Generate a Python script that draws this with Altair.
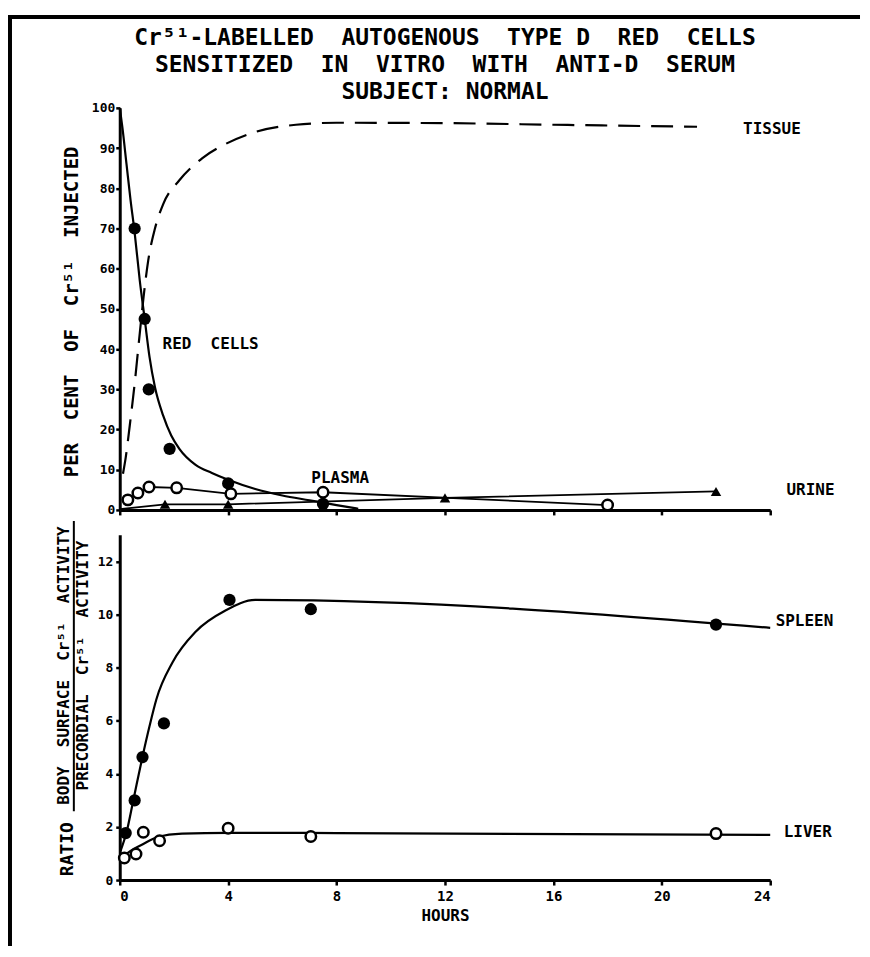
import altair as alt
import pandas as pd

FONT = "DejaVu Sans Mono"
SP = "\u00a0 "  # widened word gap (plain double spaces collapse in SVG)

# ---------------- text ----------------
title_lines = [
    f"Cr⁵¹-LABELLED{SP}AUTOGENOUS{SP}TYPE D{SP}RED{SP}CELLS",
    f"SENSITIZED{SP}IN{SP}VITRO{SP}WITH{SP}ANTI-D{SP}SERUM",
    "SUBJECT: NORMAL",
]
top_y_title = f"PER{SP}CENT{SP}OF{SP}Cr⁵¹{SP}INJECTED"
x_title = "HOURS"
ratio_word = "RATIO"
ratio_num = f"BODY{SP}SURFACE{SP}Cr⁵¹{SP}ACTIVITY"
ratio_den = f"PRECORDIAL{SP}Cr⁵¹{SP}ACTIVITY"

hours_ticks = [0, 4, 8, 12, 16, 20, 24]
pct_ticks = [0, 10, 20, 30, 40, 50, 60, 70, 80, 90, 100]
ratio_ticks = [0, 2, 4, 6, 8, 10, 12]

# ---------------- top panel data (per cent of Cr51 injected) ----------------
rc_t = [0.55, 0.92, 1.07, 1.84, 4.0, 7.5]
rc_v = [70, 47.5, 30, 15.2, 6.6, 1.5]
rc_curve_t = [0, 0.1, 0.25, 0.4, 0.55, 0.74, 0.92, 1.1, 1.3, 1.6, 1.9, 2.2,
              2.8, 3.4, 4.0, 5.0, 6.0, 7.0, 8.0, 8.8]
rc_curve_v = [100, 95, 86, 77, 69, 57, 47.5, 38, 30.5, 23.5, 18.5, 15.2,
              11.2, 9.2, 7.5, 5.2, 3.6, 2.4, 1.2, 0.3]

tissue_t = [0.12, 0.22, 0.37, 0.55, 0.74, 0.88, 1.05, 1.3, 1.6, 2.2, 3.05,
            3.9, 5.0, 6.5, 8.0, 12.0, 16.0, 21.3]
tissue_v = [9, 13, 21, 31.4, 44, 53, 62, 70, 76, 82, 87.5,
            91, 94, 95.8, 96.3, 96.2, 95.8, 95.3]

plasma_t = [0.3, 0.67, 1.08, 2.1, 4.1, 7.5, 18.0]
plasma_v = [2.5, 4.2, 5.7, 5.5, 4.0, 4.4, 1.2]

urine_t = [1.67, 4.0, 12.0, 22.0]
urine_v = [1.4, 1.4, 3.0, 4.6]
urine_line_t = [0.0, 1.67, 4.0, 12.0, 22.0]
urine_line_v = [0.2, 1.4, 1.4, 3.0, 4.6]

top_label_text = ["TISSUE", f"RED{SP}CELLS", "PLASMA", "URINE"]
top_label_t = [23.0, 1.58, 7.07, 24.6]
top_label_v = [94.8, 41.3, 8.0, 5.0]

# ---------------- bottom panel data (ratio) ----------------
spleen_t = [0.22, 0.55, 0.84, 1.63, 4.05, 7.05, 22.0]
spleen_v = [1.77, 3.0, 4.63, 5.9, 10.55, 10.2, 9.62]
spleen_curve_t = [0.03, 0.25, 0.5, 0.83, 1.1, 1.35, 1.95, 2.8, 3.9, 5.0, 24.0]
spleen_curve_v = [1.1, 1.8, 3.0, 4.6, 5.8, 6.8, 8.2, 9.35, 10.15, 10.55, 9.5]

liver_t = [0.17, 0.6, 0.87, 1.47, 4.0, 7.05, 22.0]
liver_v = [0.83, 0.98, 1.8, 1.48, 1.95, 1.64, 1.75]
liver_curve_t = [0.05, 0.4, 0.8, 1.4, 2.3, 4.0, 8.0, 24.0]
liver_curve_v = [0.85, 1.1, 1.32, 1.62, 1.75, 1.78, 1.77, 1.7]

bottom_label_text = ["SPLEEN", "LIVER"]
bottom_label_t = [24.2, 24.5]
bottom_label_v = [9.74, 1.8]


def df(t, v):
    return pd.DataFrame({"t": t, "v": v})


# ---------------- encodings ----------------
TOP_W, TOP_H = 652, 403
BOT_W, BOT_H = 652, 346

x_top = alt.X("t:Q", scale=alt.Scale(domain=[0, 24], nice=False),
              axis=alt.Axis(values=hours_ticks, labels=False, title=None,
                            tickSize=5, grid=False))
y_top = alt.Y("v:Q", scale=alt.Scale(domain=[0, 100], nice=False),
              axis=alt.Axis(values=pct_ticks, title=top_y_title, grid=False,
                            tickSize=4, labelPadding=1,
                            titleX=-48, titleY=204, titleAngle=270,
                            titleAlign="center", titleBaseline="middle",
                            titleFontSize=19))

x_bot = alt.X("t:Q", scale=alt.Scale(domain=[0, 24], nice=False),
              axis=alt.Axis(values=hours_ticks, title=x_title, grid=False,
                            tickSize=5, labelPadding=4, titlePadding=5,
                            labelFontSize=14, titleFontSize=16))
y_bot = alt.Y("v:Q", scale=alt.Scale(domain=[0, 13], nice=False),
              axis=alt.Axis(values=ratio_ticks, title=None, grid=False,
                            tickSize=4, labelPadding=3))

one = pd.DataFrame({"k": [0]})
LW = 2.2


def line(d, enc_x, enc_y, **kw):
    return alt.Chart(d).mark_line(color="black", strokeWidth=LW,
                                  interpolate="monotone", **kw).encode(x=enc_x, y=enc_y)


def filled(d, enc_x, enc_y):
    return alt.Chart(d).mark_point(shape="circle", filled=True, color="black",
                                   size=150, opacity=1).encode(x=enc_x, y=enc_y)


def hollow(d, enc_x, enc_y):
    return alt.Chart(d).mark_point(shape="circle", filled=True, fill="white",
                                   stroke="black", strokeWidth=2.5, size=110,
                                   opacity=1).encode(x=enc_x, y=enc_y)


def labels(t, v, txt, enc_x, enc_y):
    d = pd.DataFrame({"t": t, "v": v, "label": txt})
    return alt.Chart(d).mark_text(align="left", baseline="middle", font=FONT,
                                  fontWeight="bold", fontSize=16,
                                  color="black").encode(x=enc_x, y=enc_y,
                                                        text="label:N")


def vtext(s, x, y, size):
    return alt.Chart(pd.DataFrame({"label": [s]})).mark_text(
        angle=270, align="center", baseline="middle", font=FONT,
        fontWeight="bold", fontSize=size, color="black").encode(
        x=alt.value(x), y=alt.value(y), text="label:N")


top = alt.layer(
    line(df(tissue_t, tissue_v), x_top, y_top, strokeDash=[22, 11]),
    line(df(rc_curve_t, rc_curve_v), x_top, y_top),
    alt.Chart(df(urine_line_t, urine_line_v)).mark_line(color="black", strokeWidth=1.8).encode(x=x_top, y=y_top),
    alt.Chart(df(plasma_t, plasma_v)).mark_line(color="black", strokeWidth=1.8).encode(x=x_top, y=y_top),
    alt.Chart(df(urine_t, urine_v)).mark_point(shape="triangle-up", filled=True, color="black",
                                               size=110, opacity=1).encode(x=x_top, y=y_top),
    hollow(df(plasma_t, plasma_v), x_top, y_top),
    filled(df(rc_t, rc_v), x_top, y_top),
    labels(top_label_t, top_label_v, top_label_text, x_top, y_top),
).properties(
    width=TOP_W, height=TOP_H,
    title=alt.TitleParams(text=title_lines, anchor="middle", frame="group",
                          font=FONT, fontSize=23, fontWeight="bold",
                          lineHeight=27, offset=-2, color="black"),
)

# frame (decoration), drawn from the lower panel's origin
frame_top = alt.Chart(one).mark_rule(color="black", strokeWidth=4).encode(
    x=alt.value(-110), x2=alt.value(742), y=alt.value(-519))
frame_left = alt.Chart(one).mark_rule(color="black", strokeWidth=4).encode(
    x=alt.value(-110), y=alt.value(-521), y2=alt.value(412))
underline = alt.Chart(one).mark_rule(color="black", strokeWidth=2).encode(
    x=alt.value(-46), y=alt.value(-14), y2=alt.value(277))

bottom = alt.layer(
    line(df(spleen_curve_t, spleen_curve_v), x_bot, y_bot),
    line(df(liver_curve_t, liver_curve_v), x_bot, y_bot),
    filled(df(spleen_t, spleen_v), x_bot, y_bot),
    hollow(df(liver_t, liver_v), x_bot, y_bot),
    labels(bottom_label_t, bottom_label_v, bottom_label_text, x_bot, y_bot),
    vtext(ratio_word, -52, 315, 18),
    vtext(ratio_num, -56, 131, 16),
    vtext(ratio_den, -37, 131, 16),
    underline, frame_top, frame_left,
).properties(width=BOT_W, height=BOT_H)

chart = alt.vconcat(top, bottom, spacing=25, bounds="flush").properties(
    padding={"left": 0, "top": 4, "right": 0, "bottom": 0}
).configure_view(stroke=None).configure_axis(
    domainColor="black", domainWidth=3, tickColor="black", tickWidth=2.5,
    labelColor="black", titleColor="black", labelFont=FONT, titleFont=FONT,
    labelFontWeight="bold", titleFontWeight="bold", labelFontSize=13,
)

chart.save("out.html", embed_options={"renderer": "svg", "actions": False})
